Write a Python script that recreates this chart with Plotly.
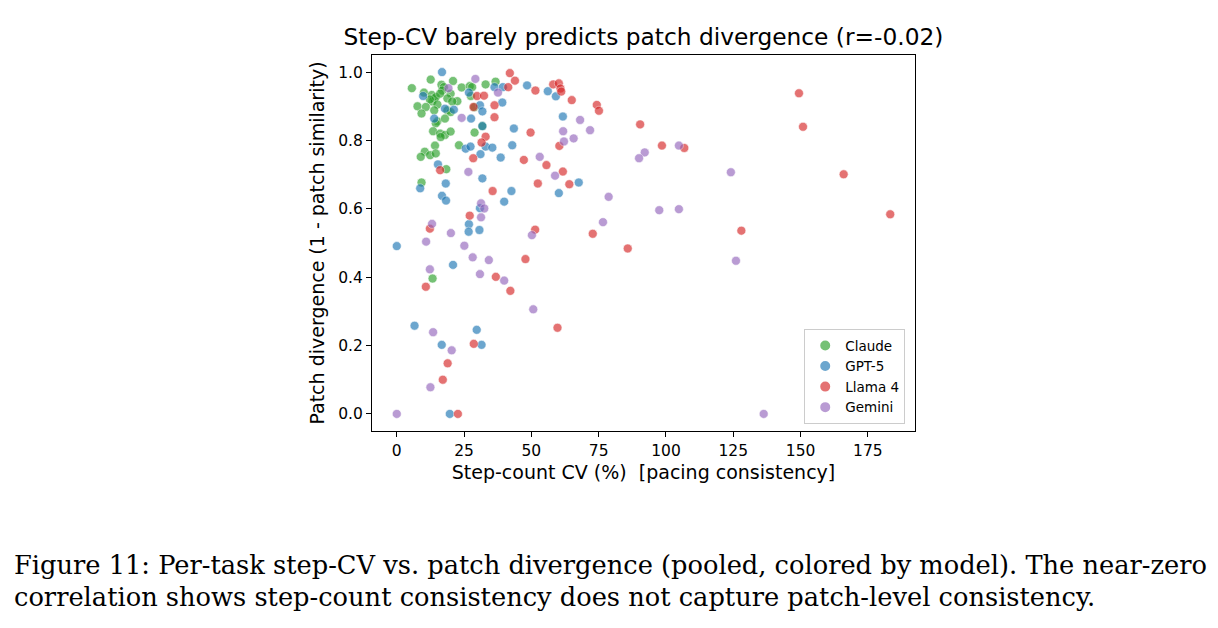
import plotly.graph_objects as go

models = ["Claude", "GPT-5", "Llama 4", "Gemini"]
colors = ["#2ca02c", "#1f77b4", "#d62728", "#9467bd"]

claude_x = [12.6, 20.9, 36.7, 5.6, 16.6, 17.5, 16.9, 24.1, 27.1, 33.0, 28.0, 27.5, 10.1, 13.0, 13.9,
            13.2, 14.5, 12.3, 16.1, 20.0, 18.8, 22.5, 20.6, 7.7, 10.8, 15.1, 28.8, 18.8, 20.0, 9.2,
            13.9, 15.1, 17.9, 14.5, 13.5, 16.1, 17.9, 20.0, 16.3, 23.1, 14.2, 10.4, 8.9, 12.4, 14.5,
            18.4, 9.2, 31.8, 28.9, 13.3]
claude_y = [0.978, 0.974, 0.972, 0.953, 0.963, 0.956, 0.946, 0.955, 0.959, 0.964, 0.956, 0.930, 0.940, 0.933, 0.923,
            0.914, 0.927, 0.920, 0.937, 0.937, 0.923, 0.915, 0.914, 0.900, 0.898, 0.905, 0.897, 0.888, 0.883, 0.879,
            0.888, 0.856, 0.864, 0.850, 0.827, 0.820, 0.816, 0.826, 0.810, 0.786, 0.785, 0.767, 0.752, 0.757, 0.762,
            0.716, 0.677, 0.842, 0.823, 0.396]

gpt_x = [16.8, 26.8, 9.8, 17.9, 21.2, 13.9, 27.6, 36.3, 39.4, 48.4, 56.1, 30.9, 39.2, 31.8, 59.1,
         61.7, 31.8, 43.5, 25.6, 27.4, 33.0, 35.5, 42.9, 31.1, 38.6, 15.3, 31.8, 67.6, 18.2, 8.7,
         60.2, 16.8, 18.3, 39.9, 30.9, 42.6, 26.8, 26.7, 30.7, 0.0, 20.9, 6.6, 29.7, 16.7, 31.5, 19.7]
gpt_y = [1.000, 0.940, 0.930, 0.893, 0.890, 0.864, 0.864, 0.956, 0.956, 0.961, 0.944, 0.903, 0.911, 0.885, 0.929,
         0.870, 0.842, 0.835, 0.776, 0.782, 0.782, 0.779, 0.786, 0.760, 0.750, 0.730, 0.689, 0.677, 0.674, 0.660,
         0.646, 0.638, 0.624, 0.621, 0.602, 0.652, 0.555, 0.533, 0.538, 0.491, 0.436, 0.258, 0.246, 0.202, 0.202, 0.000]

llama_x = [42.0, 43.9, 41.4, 51.5, 29.8, 32.4, 28.5, 36.3, 36.3, 58.1, 60.2, 60.8, 61.1, 65.0, 74.3,
           75.1, 90.4, 49.7, 33.0, 31.5, 60.4, 98.5, 106.8, 28.4, 47.2, 55.6, 16.1, 61.7, 52.4, 64.1,
           149.4, 150.9, 166.0, 183.3, 128.0, 35.6, 27.1, 12.3, 51.4, 72.8, 85.8, 47.8, 36.8, 10.8, 42.2,
           59.7, 28.6, 18.9, 17.1, 22.7]
llama_y = [0.997, 0.975, 0.956, 0.946, 0.930, 0.931, 0.898, 0.903, 0.868, 0.964, 0.967, 0.952, 0.943, 0.918, 0.904,
           0.887, 0.847, 0.823, 0.811, 0.794, 0.784, 0.785, 0.778, 0.748, 0.743, 0.728, 0.713, 0.709, 0.674, 0.672,
           0.938, 0.840, 0.701, 0.584, 0.536, 0.652, 0.580, 0.542, 0.539, 0.527, 0.484, 0.453, 0.401, 0.372, 0.360,
           0.252, 0.205, 0.148, 0.100, 0.000]

gem_x = [29.2, 19.2, 37.6, 24.1, 68.1, 61.8, 71.8, 62.1, 65.7, 104.8, 92.1, 90.0, 53.1, 58.8, 26.6,
         124.1, 78.7, 97.5, 104.8, 31.3, 32.5, 31.3, 76.6, 13.1, 50.2, 20.1, 10.9, 25.1, 28.2, 34.2,
         126.0, 12.3, 30.9, 39.9, 50.7, 13.5, 20.4, 12.5, 0.0, 136.3]
gem_y = [0.980, 0.953, 0.940, 0.866, 0.860, 0.827, 0.830, 0.797, 0.806, 0.785, 0.765, 0.748, 0.752, 0.697, 0.708,
         0.707, 0.635, 0.596, 0.599, 0.616, 0.601, 0.575, 0.561, 0.556, 0.523, 0.529, 0.504, 0.492, 0.458, 0.450,
         0.448, 0.423, 0.409, 0.390, 0.306, 0.239, 0.186, 0.078, 0.000, 0.000]

y_ticks = [0.0, 0.2, 0.4, 0.6, 0.8, 1.0]
x_ticks = [0, 25, 50, 75, 100, 125, 150, 175]

title_text = "Step-CV barely predicts patch divergence (r=-0.02)"
x_label = "Step-count CV (%)  [pacing consistency]"
y_label = "Patch divergence (1 - patch similarity)"
caption_1 = "Figure 11: Per-task step-CV vs. patch divergence (pooled, colored by model). The near-zero"
caption_2 = "correlation shows step-count consistency does not capture patch-level consistency."

series = [(claude_x, claude_y), (gpt_x, gpt_y), (llama_x, llama_y), (gem_x, gem_y)]

FONT = "DejaVu Sans"
fig = go.Figure()
for name, col, (xs, ys) in zip(models, colors, series):
    fig.add_trace(go.Scatter(
        x=xs, y=ys, mode="markers", name=name,
        marker=dict(size=9, color=col, opacity=0.65, line=dict(color="white", width=0.6)),
    ))

axis_common = dict(
    showline=True, linecolor="black", linewidth=1.2, mirror=True,
    ticks="outside", ticklen=5, tickwidth=1.1, tickcolor="black",
    showgrid=False, zeroline=False,
    tickfont=dict(family=FONT, size=15.5, color="black"),
)

fig.update_layout(
    width=1218, height=628,
    paper_bgcolor="white", plot_bgcolor="white",
    margin=dict(l=372, r=303, t=55, b=197, autoexpand=False),
    title=dict(text=title_text, x=0.5, xref="paper", xanchor="center",
               y=1 - 37 / 628, yref="container", yanchor="middle",
               font=dict(family=FONT, size=23.3, color="black")),
    xaxis=dict(range=[-9.2, 192.5], tickvals=x_ticks,
               title=dict(text=x_label, font=dict(family=FONT, size=19, color="black"), standoff=6),
               **axis_common),
    yaxis=dict(range=[-0.05, 1.05], tickvals=y_ticks, tickformat=".1f",
               title=dict(text=y_label, font=dict(family=FONT, size=19, color="black"), standoff=8),
               **axis_common),
    legend=dict(x=0.982, y=0.018, xanchor="right", yanchor="bottom",
                bgcolor="white", bordercolor="#cccccc", borderwidth=1,
                font=dict(family=FONT, size=13.5, color="black"),
                itemsizing="constant", tracegroupgap=0),
    showlegend=True,
)

fig.add_annotation(text=caption_1, xref="paper", yref="paper",
                   x=(12 - 372) / 543, y=(431 - 565) / 376, xanchor="left", yanchor="middle",
                   showarrow=False, font=dict(family="DejaVu Serif", size=25.7, color="black"))
fig.add_annotation(text=caption_2, xref="paper", yref="paper",
                   x=(12 - 372) / 543, y=(431 - 597) / 376, xanchor="left", yanchor="middle",
                   showarrow=False, font=dict(family="DejaVu Serif", size=25.7, color="black"))

fig.write_html("out.html")
